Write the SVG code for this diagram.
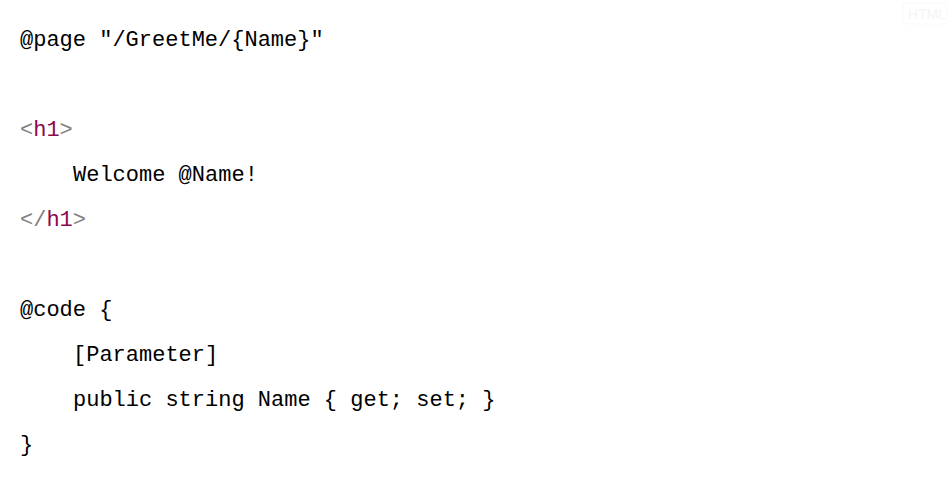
<svg xmlns="http://www.w3.org/2000/svg" width="951" height="479" viewBox="0 0 951 479">
<style>
text{font-family:"Liberation Mono","DejaVu Sans Mono",monospace;font-size:22px;fill:#000;white-space:pre}
.p{fill:#808080}
.t{fill:#8b0a50}
</style>
<rect width="951" height="479" fill="#fff"/>
<g id="badge"><rect x="903" y="3" width="44" height="21" rx="4" fill="none" stroke="#f9f9f9"/><text x="908" y="19" style="font-family:'Liberation Sans',sans-serif;font-size:14px;fill:#f5f5f5">HTML</text></g>
<g id="code">
<text x="20" y="46">@page "/GreetMe/{Name}"</text>
<text x="20" y="136"><tspan class="p">&lt;</tspan><tspan class="t">h1</tspan><tspan class="p">&gt;</tspan></text>
<text x="73" y="181">Welcome @Name!</text>
<text x="20" y="226"><tspan class="p">&lt;/</tspan><tspan class="t">h1</tspan><tspan class="p">&gt;</tspan></text>
<text x="20" y="316">@code {</text>
<text x="73" y="361">[Parameter]</text>
<text x="73" y="406">public string Name { get; set; }</text>
<text x="20" y="451">}</text>
</g>
</svg>
